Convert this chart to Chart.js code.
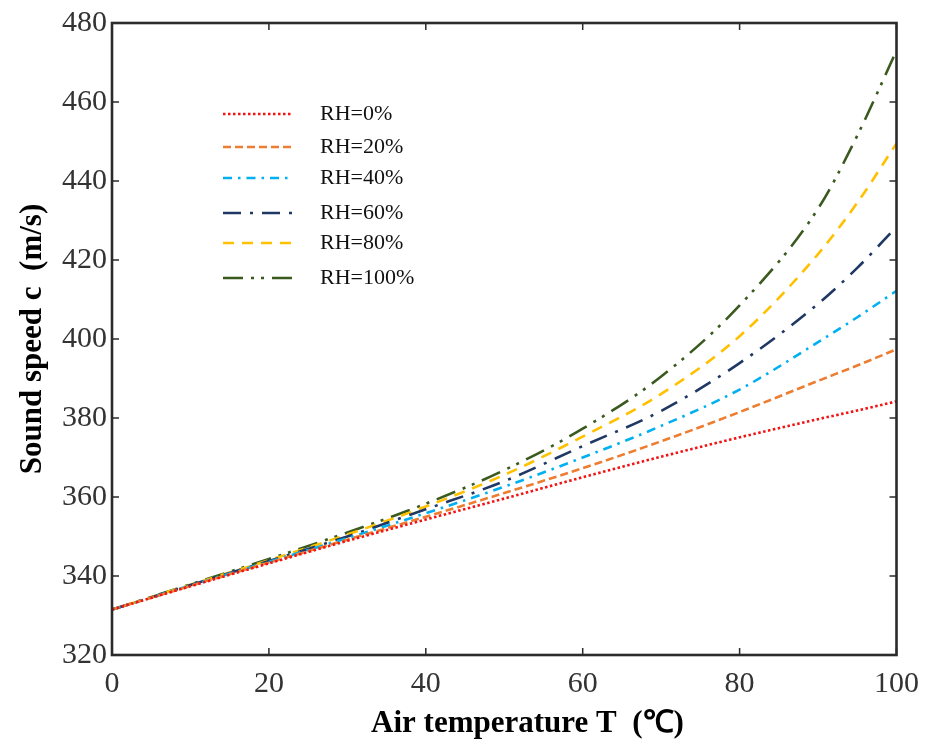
<!DOCTYPE html>
<html><head><meta charset="utf-8">
<script src="https://cdn.jsdelivr.net/npm/chart.js@4/dist/chart.umd.min.js"></script>
<style>html,body{margin:0;padding:0;background:#fff}#wrap{width:930px;height:740px}</style>
</head><body><div id="wrap"><canvas id="c" width="930" height="740"></canvas></div>
<script>
// Air temperature T (°C)
const temperatures = [0, 10, 20, 30, 40, 50, 60, 70, 80, 90, 95, 100];
// Sound speed c (m/s) for each relative humidity
const rh0   = [331.5, 337.4, 343.2, 348.9, 354.3, 359.6, 365.0, 370.2, 375.1, 379.7, 381.9, 384.2];
const rh20  = [331.5, 337.5, 343.4, 349.2, 355.0, 361.0, 367.3, 374.1, 381.5, 389.4, 393.3, 397.4];
const rh40  = [331.5, 337.6, 343.6, 349.6, 355.9, 362.6, 370.0, 378.0, 387.2, 399.2, 405.5, 412.2];
const rh60  = [331.5, 337.7, 343.8, 350.0, 356.9, 364.0, 372.9, 381.8, 393.9, 408.9, 418.0, 428.4];
const rh80  = [331.5, 337.8, 344.0, 350.5, 357.6, 365.6, 375.3, 386.1, 400.7, 421.5, 434.5, 449.5];
const rh100 = [331.5, 337.9, 344.3, 351.0, 358.3, 366.8, 377.3, 390.5, 408.5, 433.0, 451.5, 473.0];
const seriesLabels = ['RH=0%', 'RH=20%', 'RH=40%', 'RH=60%', 'RH=80%', 'RH=100%'];
const xTickValues = [0, 20, 40, 60, 80, 100];
const yTickValues = [320, 340, 360, 380, 400, 420, 440, 460, 480];

const seriesValues = [rh0, rh20, rh40, rh60, rh80, rh100];
const styles = [
  {color: '#f01414', dash: [2.5, 2.5]},
  {color: '#ed7d31', dash: [8, 4]},
  {color: '#00b0f0', dash: [9, 6, 2.5, 6]},
  {color: '#1f3864', dash: [18, 9, 3, 9]},
  {color: '#ffc000', dash: [11, 8]},
  {color: '#3a5a1f', dash: [20, 8, 3, 7, 3, 8]}
];

const datasets = seriesValues.map((vals, i) => ({
  label: seriesLabels[i],
  data: temperatures.map((t, j) => ({x: t, y: vals[j]})),
  borderColor: styles[i].color,
  backgroundColor: styles[i].color,
  borderDash: styles[i].dash,
  borderWidth: 2.6,
  pointRadius: 0,
  fill: false,
  cubicInterpolationMode: 'monotone'
}));

const framePlugin = {
  id: 'frame',
  afterDatasetsDraw(chart) {
    const {ctx, chartArea: a, scales: {x, y}} = chart;
    ctx.save();
    ctx.strokeStyle = '#2b2b2b';
    ctx.lineWidth = 1.5;
    const L = 7;
    x.ticks.forEach(t => {
      const px = x.getPixelForValue(t.value);
      ctx.beginPath();
      ctx.moveTo(px, a.bottom); ctx.lineTo(px, a.bottom - L);
      ctx.moveTo(px, a.top); ctx.lineTo(px, a.top + L);
      ctx.stroke();
    });
    y.ticks.forEach(t => {
      const py = y.getPixelForValue(t.value);
      ctx.beginPath();
      ctx.moveTo(a.left, py); ctx.lineTo(a.left + L, py);
      ctx.moveTo(a.right, py); ctx.lineTo(a.right - L, py);
      ctx.stroke();
    });
    ctx.lineWidth = 2.6;
    ctx.strokeRect(a.left, a.top, a.right - a.left, a.bottom - a.top);

    // legend inside plot
    const x0 = a.left + 111, x1 = a.left + 180, tx = a.left + 208;
    const rowY = [91, 124, 155, 190, 220, 255];
    ctx.font = '22px "Liberation Serif", "Times New Roman", serif';
    ctx.textBaseline = 'middle';
    ctx.textAlign = 'left';
    chart.data.datasets.forEach((ds, i) => {
      const yy = a.top + rowY[i];
      ctx.beginPath();
      ctx.setLineDash(ds.borderDash);
      ctx.strokeStyle = ds.borderColor;
      ctx.lineWidth = 2.6;
      ctx.moveTo(x0, yy); ctx.lineTo(x1, yy);
      ctx.stroke();
      ctx.setLineDash([]);
      ctx.fillStyle = '#111';
      ctx.fillText(ds.label, tx, yy);
    });
    ctx.restore();
  }
};

new Chart(document.getElementById('c'), {
  type: 'line',
  data: {datasets},
  plugins: [framePlugin],
  options: {
    responsive: false,
    animation: false,
    devicePixelRatio: 1,
    layout: {padding: {left: 0, top: 22, right: 32, bottom: 0}},
    plugins: {legend: {display: false}, tooltip: {enabled: false}},
    scales: {
      x: {
        type: 'linear', min: 0, max: 100,
        afterBuildTicks: s => { s.ticks = xTickValues.map(v => ({value: v})); },
        afterFit: s => { s.height = 85; },
        grid: {display: false, drawTicks: false},
        border: {display: false},
        ticks: {padding: 11, color: '#333', font: {family: '"Liberation Serif", "Times New Roman", serif', size: 30}},
        title: {display: true, text: '      Air temperature T  (℃)', color: '#000', padding: {top: 0, bottom: 1},
          font: {family: '"Liberation Serif", "Times New Roman", serif', size: 31, weight: 'bold', lineHeight: 1.0}}
      },
      y: {
        type: 'linear', min: 320, max: 480,
        afterBuildTicks: s => { s.ticks = yTickValues.map(v => ({value: v})); },
        afterFit: s => { s.width = 112; },
        grid: {display: false, drawTicks: false},
        border: {display: false},
        ticks: {padding: 5, color: '#333', font: {family: '"Liberation Serif", "Times New Roman", serif', size: 30}},
        title: {display: true, text: 'Sound speed c  (m/s)', color: '#000', padding: {top: 14, bottom: 0},
          font: {family: '"Liberation Serif", "Times New Roman", serif', size: 31, weight: 'bold'}}
      }
    }
  }
});
</script></body></html>
